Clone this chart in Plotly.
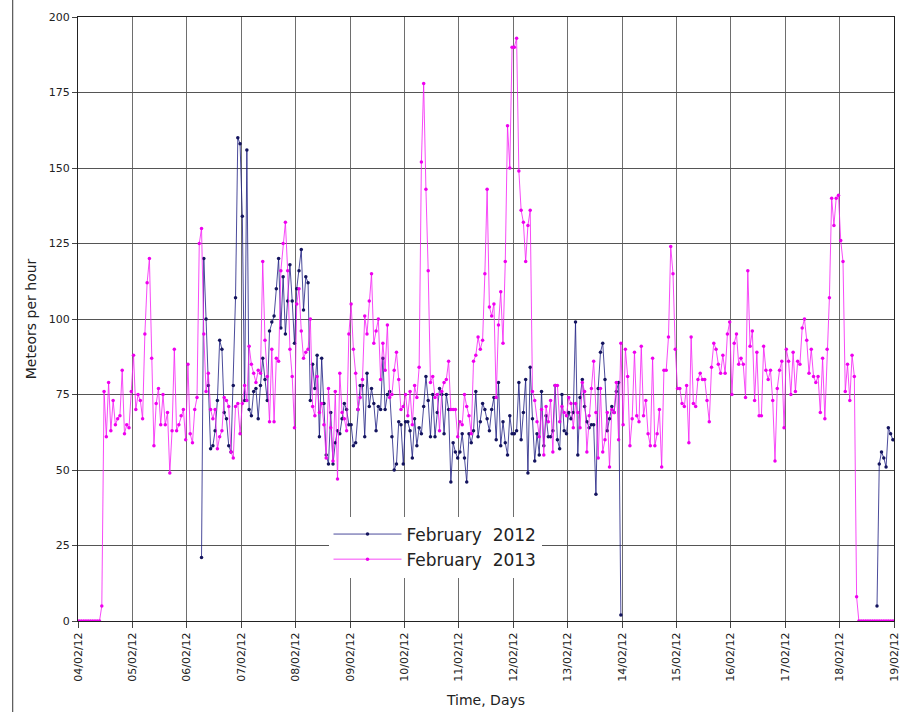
import plotly.graph_objects as go
from datetime import datetime, timedelta

# Hourly meteor rates; each point sits at the middle of its hour.
START = datetime(2012, 2, 4, 0, 30)

# February 2013, 04/02 to 18/02, one row per day (24 hourly values)
rate_2013 = [
    0, 0, 0, 0, 0, 0, 0, 0, 0, 0, 5, 76, 61, 79, 63, 73, 65, 67, 68, 83, 62, 65, 64, 76,
    88, 70, 75, 73, 67, 95, 112, 120, 87, 58, 72, 77, 65, 75, 65, 69, 49, 63, 90, 63, 65, 68, 70, 60,
    85, 62, 59, 70, 74, 125, 130, 95, 76, 82, 70, 67, 70, 57, 61, 63, 74, 73, 71, 56, 54, 71, 72, 62,
    72, 78, 73, 91, 85, 82, 79, 83, 82, 119, 93, 81, 66, 90, 66, 87, 86, 116, 125, 132, 116, 90, 81, 64,
    105, 110, 96, 87, 89, 90, 100, 71, 68, 81, 69, 72, 65, 54, 77, 64, 53, 76, 47, 82, 69, 67, 63, 95,
    105, 90, 82, 70, 74, 80, 101, 95, 106, 115, 92, 96, 100, 80, 92, 83, 98, 74, 75, 83, 89, 80, 70, 71,
    75, 68, 76, 65, 78, 74, 84, 152, 178, 143, 116, 79, 81, 74, 75, 63, 76, 79, 80, 86, 70, 70, 70, 61,
    66, 65, 75, 71, 68, 62, 86, 88, 94, 90, 93, 115, 143, 104, 101, 105, 74, 98, 109, 92, 119, 164, 150, 190,
    190, 193, 149, 136, 132, 119, 131, 136, 76, 73, 66, 61, 70, 55, 71, 66, 73, 56, 78, 78, 66, 71, 69, 68,
    74, 72, 64, 72, 69, 64, 79, 76, 56, 68, 77, 86, 69, 54, 77, 56, 60, 69, 51, 70, 69, 79, 60, 92,
    65, 90, 81, 58, 67, 89, 68, 66, 91, 68, 73, 62, 58, 87, 58, 62, 70, 51, 83, 83, 94, 124, 115, 90,
    77, 77, 72, 71, 78, 59, 94, 72, 71, 80, 82, 80, 80, 73, 66, 84, 92, 90, 85, 82, 88, 82, 95, 99,
    75, 92, 95, 85, 87, 85, 74, 116, 91, 96, 73, 89, 68, 68, 91, 83, 80, 83, 73, 53, 77, 83, 86, 64,
    90, 86, 75, 89, 76, 86, 85, 97, 100, 93, 82, 90, 81, 79, 81, 69, 87, 67, 90, 107, 140, 131, 140, 141,
    126, 119, 76, 85, 73, 88, 81, 8, 0, 0, 0, 0, 0, 0, 0, 0, 0, 0, 0, 0, 0, 0, 0, 0,
]

# February 2012: two observing runs, given as (first hour offset, hourly values)
run1_start = 54
rate_2012_run1 = [
    21, 120, 100, 78, 57, 58, 63, 73, 93, 90, 69, 67, 58, 56, 78, 107, 160, 158,
    134, 73, 156, 70, 68, 76, 77, 67, 78, 87, 80, 73, 96, 99, 101, 110, 120, 97, 114, 95, 106, 118, 106, 92,
    110, 116, 123, 103, 114, 112, 73, 85, 77, 88, 61, 87, 72, 55, 52, 69, 52, 59, 63, 62, 67, 72, 70, 65,
    65, 58, 59, 70, 78, 78, 61, 82, 71, 77, 72, 63, 71, 70, 87, 70, 75, 76, 61, 50, 52, 66, 65, 52,
    66, 66, 63, 54, 67, 58, 64, 62, 71, 81, 73, 61, 75, 61, 69, 77, 75, 62, 75, 70, 46, 59, 56, 54,
    56, 62, 54, 46, 62, 59, 63, 76, 61, 66, 72, 70, 67, 63, 70, 74, 60, 79, 58, 66, 59, 55, 68, 62,
    62, 63, 79, 60, 69, 80, 49, 84, 67, 53, 62, 55, 76, 58, 68, 61, 61, 63, 78, 60, 57, 75, 63, 62,
    69, 67, 69, 99, 55, 74, 80, 71, 66, 64, 65, 65, 42, 77, 89, 92, 80, 63, 67, 71, 69, 76, 79, 2,
]
run2_start = 352
rate_2012_run2 = [5, 52, 56, 54, 51, 64, 62, 60]

day_ticks = [START - timedelta(minutes=30) + timedelta(days=d) for d in range(16)]


def hours_to_time(offset, n):
    return [START + timedelta(hours=offset + k) for k in range(n)]


x_2013 = hours_to_time(0, len(rate_2013))
x_2012 = (hours_to_time(run1_start, len(rate_2012_run1))
          + [START + timedelta(hours=run1_start + len(rate_2012_run1))]
          + hours_to_time(run2_start, len(rate_2012_run2)))
y_2012 = rate_2012_run1 + [None] + rate_2012_run2

fig = go.Figure()
fig.add_trace(go.Scatter(
    x=x_2012, y=y_2012, mode="lines+markers", name="February\u00a0 2012",
    connectgaps=False,
    line=dict(color="rgba(30,30,130,0.8)", width=1),
    marker=dict(color="#14145e", size=3.5),
))
fig.add_trace(go.Scatter(
    x=x_2013, y=rate_2013, mode="lines+markers", name="February\u00a0 2013",
    line=dict(color="rgba(245,30,245,0.8)", width=1),
    marker=dict(color="#ee00ee", size=3.5),
))

# thin frame line at the left edge of the page
fig.add_shape(type="line", xref="paper", yref="paper",
              x0=-0.080, x1=-0.080, y0=-0.151, y1=1.03,
              line=dict(color="#333333", width=1))

fig.update_layout(
    width=906, height=712,
    margin=dict(l=78, r=12, t=17, b=91),
    paper_bgcolor="white", plot_bgcolor="white",
    font=dict(family="DejaVu Sans", size=11, color="#222222"),
    showlegend=True,
    legend=dict(
        x=0.307, y=0.173, xanchor="left", yanchor="top",
        bgcolor="white", borderwidth=0,
        font=dict(family="DejaVu Sans", size=17, color="#222222"),
        itemwidth=68, tracegroupgap=0,
    ),
    xaxis=dict(
        type="date",
        range=[day_ticks[0], day_ticks[-1]],
        tickvals=day_ticks,
        tickformat="%d/%m/%y",
        tickangle=-90,
        ticks="outside", ticklen=6, tickcolor="#444444",
        showgrid=True, gridcolor="#6e6e6e", gridwidth=1,
        showline=True, linecolor="#222222", linewidth=1, mirror=True,
        zeroline=False, automargin=False,
        tickfont=dict(family="DejaVu Sans", size=11),
        title=dict(text="Time, Days", font=dict(family="DejaVu Sans", size=14), standoff=14),
    ),
    yaxis=dict(
        range=[0, 200],
        tickvals=[0, 25, 50, 75, 100, 125, 150, 175, 200],
        ticks="outside", ticklen=5, tickcolor="#444444",
        showgrid=True, gridcolor="#555555", gridwidth=1,
        showline=True, linecolor="#222222", linewidth=1, mirror=True,
        zeroline=False, automargin=False,
        tickfont=dict(family="DejaVu Sans", size=11),
        title=dict(text="Meteors per hour", font=dict(family="DejaVu Sans", size=14), standoff=8),
    ),
)

fig.write_html("out.html")
